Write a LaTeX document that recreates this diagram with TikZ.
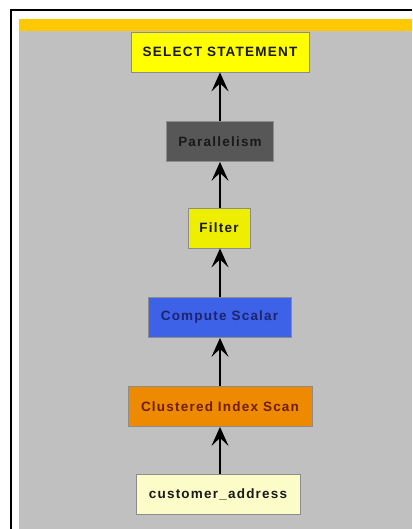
\documentclass[tikz,border=0pt]{standalone}
\usepackage{fontspec}
\newfontfamily\planfont[LetterSpace=9]{Liberation Sans}
\usetikzlibrary{arrows.meta}
\definecolor{bandorange}{HTML}{FFC800}
\definecolor{panelgray}{HTML}{C0C0C0}
\definecolor{opyellow}{HTML}{FFFF00}
\definecolor{opdark}{HTML}{575757}
\definecolor{oplime}{HTML}{EEEE00}
\definecolor{opblue}{HTML}{3D62E8}
\definecolor{oporange}{HTML}{EE8A00}
\definecolor{oppale}{HTML}{FCFCC8}
\definecolor{txtnavy}{HTML}{1C2470}
\definecolor{txtbrown}{HTML}{6E1E05}
\tikzset{
  op/.style={draw=black!45, line width=0.8pt, minimum height=40pt,
    inner sep=0pt, text=black!90, font=\planfont\bfseries\fontsize{13.5}{13.5}\selectfont},
  flow/.style={line width=2pt, -{Stealth[length=19pt, width=17pt, inset=8pt]}}
}
\begin{document}
\begin{tikzpicture}[x=1pt,y=-1pt]
    \useasboundingbox (0,0) rectangle (412,529);
    % background and frame
    \fill[white] (0,0) rectangle (412,529);
    \fill[panelgray] (19,31) rectangle (412,529);
    \fill[bandorange] (19,19) rectangle (412,31);
    \draw[line width=1.2pt] (11,529) -- (11,10) -- (412,10);

    % operators of the plan
    \node[op, fill=opyellow, minimum width=178pt] (select) at (220,52) {SELECT STATEMENT};
    \node[op, fill=opdark, minimum width=107pt] (para) at (220,141.5) {Parallelism};
    \node[op, fill=oplime, minimum width=62pt] (filter) at (219,228) {Filter};
    \node[op, fill=opblue, minimum width=143pt, text=txtnavy] (compute) at (219.5,317.5) {Compute Scalar};
    \node[op, fill=oporange, minimum width=184pt, text=txtbrown] (scan) at (220,406.5) {Clustered Index Scan};
    \node[op, fill=oppale, minimum width=164pt] (table) at (218,494.5) {customer\_address};

    % data flow upwards
    \draw[flow] (table.north -| scan) -- (scan.south);
    \draw[flow] (scan.north) -- (compute.south -| scan);
    \draw[flow] (compute.north -| scan) -- (filter.south -| scan);
    \draw[flow] (filter.north -| scan) -- (para.south -| scan);
    \draw[flow] (para.north -| scan) -- (select.south -| scan);
\end{tikzpicture}
\end{document}
